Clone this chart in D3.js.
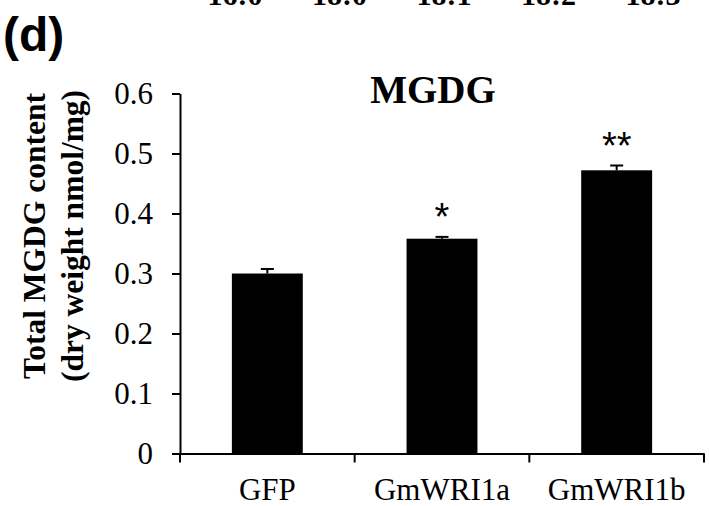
<!DOCTYPE html>
<html>
<head>
  <script src="https://d3js.org/d3.v7.min.js"></script>
  <style>
    body { margin: 0; background: #fff; }
    svg { display: block; }
  </style>
</head>
<body>
  <div id="chart"></div>
  <script>
    // data
    const categories = ['GFP', 'GmWRI1a', 'GmWRI1b'];
    const values = [0.300, 0.358, 0.472];
    const errors = [0.0075, 0.003, 0.008];
    const marks = ['', '*', '**'];
    const yTicks = [0, 0.1, 0.2, 0.3, 0.4, 0.5, 0.6];
    // bottom of the tick labels of the panel above, cut off by the crop
    const topLabels = ['16:0', '18:0', '18:1', '18:2', '18:3'];

    const width = 709, height = 506;
    const serif = '"Liberation Serif", "Times New Roman", serif';
    const sans = '"Liberation Sans", Arial, sans-serif';

    const svg = d3.select('#chart')
      .append('svg')
      .attr('width', width)
      .attr('height', height);

    // scales
    const x = d3.scaleBand()
      .domain(categories)
      .range([180, 704]);

    const y = d3.scaleLinear()
      .domain([0, 0.6])
      .range([453.5, 93.5]);

    const barW = x.bandwidth() * 0.406;

    // leftover labels of the panel above
    const topX = d3.scalePoint()
      .domain(topLabels)
      .range([235, 653]);

    svg.selectAll('.top-label')
      .data(topLabels)
      .enter()
      .append('text')
      .attr('class', 'top-label')
      .attr('x', d => topX(d))
      .attr('y', 5)
      .attr('text-anchor', 'middle')
      .style('font-family', serif)
      .style('font-weight', 'bold')
      .style('font-size', '30px')
      .text(d => d);

    // panel letter
    svg.append('text')
      .attr('x', 3)
      .attr('y', 51)
      .style('font-family', sans)
      .style('font-weight', 'bold')
      .style('font-size', '48px')
      .text('(d)');

    // title
    svg.append('text')
      .attr('x', 433)
      .attr('y', 103)
      .attr('text-anchor', 'middle')
      .style('font-family', serif)
      .style('font-weight', 'bold')
      .style('font-size', '39px')
      .text('MGDG');

    // y axis label
    const yLabel = svg.append('text')
      .attr('transform', 'translate(45, 236) rotate(-90)')
      .attr('text-anchor', 'middle')
      .style('font-family', serif)
      .style('font-weight', 'bold')
      .style('font-size', '31.5px');
    yLabel.append('tspan').attr('x', 0).attr('y', 0).text('Total MGDG content');
    yLabel.append('tspan').attr('x', 0).attr('y', 38).text('(dry weight nmol/mg)');

    // bars
    svg.selectAll('.bar')
      .data(categories)
      .enter()
      .append('rect')
      .attr('class', 'bar')
      .attr('x', d => x(d) + (x.bandwidth() - barW) / 2)
      .attr('y', (d, i) => y(values[i]))
      .attr('width', barW)
      .attr('height', (d, i) => y(0) - y(values[i]))
      .style('fill', '#000');

    // error bars (upper half only)
    const err = svg.selectAll('.err')
      .data(categories)
      .enter()
      .append('g')
      .attr('class', 'err')
      .attr('transform', d => `translate(${x(d) + x.bandwidth() / 2}, 0)`);

    err.append('line')
      .attr('x1', 0).attr('x2', 0)
      .attr('y1', (d, i) => y(values[i]))
      .attr('y2', (d, i) => y(values[i] + errors[i]))
      .style('stroke', '#000')
      .style('stroke-width', 2);

    err.append('line')
      .attr('x1', -6.5).attr('x2', 6.5)
      .attr('y1', (d, i) => y(values[i] + errors[i]))
      .attr('y2', (d, i) => y(values[i] + errors[i]))
      .style('stroke', '#000')
      .style('stroke-width', 2);

    // significance marks
    svg.selectAll('.sig')
      .data(categories)
      .enter()
      .append('text')
      .attr('class', 'sig')
      .attr('x', d => x(d) + x.bandwidth() / 2)
      .attr('y', (d, i) => y(values[i] + errors[i]) - 7)
      .attr('text-anchor', 'middle')
      .style('font-family', sans)
      .style('font-size', '38px')
      .text((d, i) => marks[i]);

    // y axis
    svg.append('g')
      .attr('class', 'y-axis')
      .attr('transform', 'translate(180, 0)')
      .call(d3.axisLeft(y)
        .tickValues(yTicks)
        .tickSize(8)
        .tickSizeOuter(0)
        .tickPadding(19)
        .tickFormat(d => d === 0 ? '0' : d.toFixed(1)));

    // x axis: labels from the band scale, ticks on the band edges
    const xAxis = svg.append('g')
      .attr('class', 'x-axis')
      .attr('transform', `translate(0, ${y(0)})`)
      .call(d3.axisBottom(x).tickSize(0).tickSizeOuter(0));

    xAxis.selectAll('.tick text')
      .attr('y', 46)
      .attr('dy', 0);

    const edges = categories.map(d => x(d)).concat([x(categories[categories.length - 1]) + x.bandwidth()]);
    xAxis.selectAll('.edge')
      .data(edges)
      .enter()
      .append('line')
      .attr('class', 'edge')
      .attr('x1', d => d).attr('x2', d => d)
      .attr('y1', 0).attr('y2', 9)
      .style('stroke', '#000');

    svg.selectAll('.y-axis, .x-axis')
      .selectAll('path, line')
      .style('stroke', '#000')
      .style('stroke-width', 2);

    svg.selectAll('.y-axis text, .x-axis text')
      .style('font-family', serif)
      .style('font-size', '31px')
      .style('fill', '#000');
  </script>
</body>
</html>
